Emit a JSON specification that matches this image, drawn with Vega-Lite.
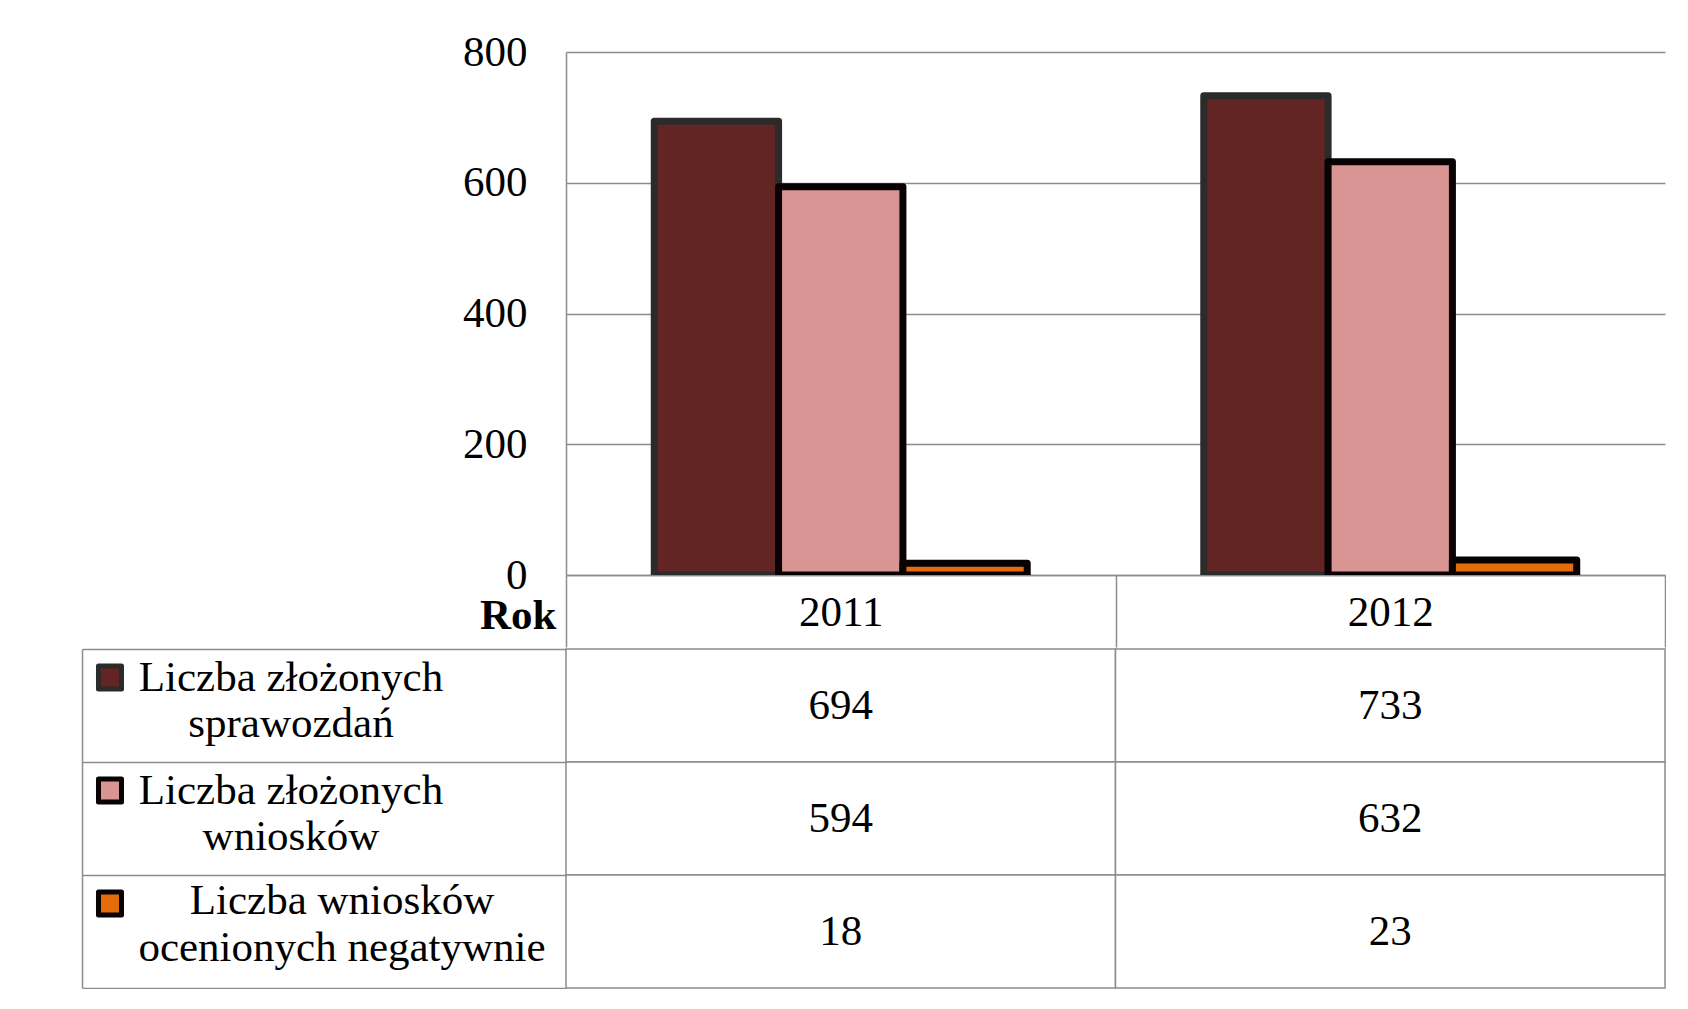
{
  "$schema": "https://vega.github.io/schema/vega-lite/v6.json",
  "background": "white",
  "padding": {"left": 81, "top": 31, "right": 0, "bottom": 0},
  "spacing": 0,
  "config": {
    "view": {"stroke": null},
    "font": "Liberation Serif",
    "axis": {"labelColor": "#000000", "titleColor": "#000000", "labelFont": "Liberation Serif", "titleFont": "Liberation Serif"}
  },
  "datasets": {
    "vals": [
      {"year": "2011", "series": "Liczba złożonych sprawozdań", "label": "Liczba złożonych\nsprawozdań", "value": 694},
      {"year": "2011", "series": "Liczba złożonych wniosków", "label": "Liczba złożonych\nwniosków", "value": 594},
      {"year": "2011", "series": "Liczba wniosków ocenionych negatywnie", "label": "Liczba wniosków\nocenionych negatywnie", "value": 18},
      {"year": "2012", "series": "Liczba złożonych sprawozdań", "label": "Liczba złożonych\nsprawozdań", "value": 733},
      {"year": "2012", "series": "Liczba złożonych wniosków", "label": "Liczba złożonych\nwniosków", "value": 632},
      {"year": "2012", "series": "Liczba wniosków ocenionych negatywnie", "label": "Liczba wniosków\nocenionych negatywnie", "value": 23}
    ]
  },
  "vconcat": [
    {
      "width": 1099,
      "height": 523,
      "data": {"name": "vals"},
      "mark": {"type": "bar", "clip": true, "strokeWidth": 7, "strokeJoin": "round"},
      "encoding": {
        "x": {
          "field": "year", "type": "nominal",
          "scale": {"paddingInner": 0, "paddingOuter": 0},
          "axis": {
            "title": "Rok", "labelAngle": 0, "tickBand": "extent", "tickSize": 72,
            "tickColor": "#8c8c8c", "tickWidth": 1.5, "domainColor": "#8c8c8c", "domainWidth": 1.5,
            "labelFontSize": 43, "labelPadding": -35, "labelBaseline": "middle",
            "titleFontSize": 43, "titleFontWeight": "bold", "titleAnchor": "start", "titleAlign": "right",
            "titleBaseline": "middle", "titleX": -10, "titleY": 40
          }
        },
        "xOffset": {
          "field": "series", "type": "nominal",
          "sort": ["Liczba złożonych sprawozdań", "Liczba złożonych wniosków", "Liczba wniosków ocenionych negatywnie"],
          "scale": {"paddingInner": 0, "paddingOuter": 0.71}
        },
        "y": {
          "field": "value", "type": "quantitative",
          "scale": {"domain": [0, 800], "nice": false},
          "axis": {
            "title": null, "values": [0, 200, 400, 600, 800], "ticks": false, "tickSize": 0,
            "labelPadding": 39, "labelFontSize": 43,
            "gridColor": "#8c8c8c", "gridWidth": 1.5, "domainColor": "#8c8c8c", "domainWidth": 1.5,
            "minExtent": 484, "maxExtent": 484
          }
        },
        "fill": {
          "field": "series", "type": "nominal",
          "sort": ["Liczba złożonych sprawozdań", "Liczba złożonych wniosków", "Liczba wniosków ocenionych negatywnie"],
          "scale": {"range": ["#632523", "#d99594", "#e46c0a"]},
          "legend": null
        },
        "stroke": {
          "field": "series", "type": "nominal",
          "sort": ["Liczba złożonych sprawozdań", "Liczba złożonych wniosków", "Liczba wniosków ocenionych negatywnie"],
          "scale": {"range": ["#2b2b2b", "#080202", "#080202"]},
          "legend": null
        }
      }
    },
    {
      "width": 1099,
      "height": 339,
      "data": {"name": "vals"},
      "encoding": {
        "y": {
          "field": "series", "type": "nominal",
          "sort": ["Liczba złożonych sprawozdań", "Liczba złożonych wniosków", "Liczba wniosków ocenionych negatywnie"],
          "scale": {"paddingInner": 0, "paddingOuter": 0},
          "axis": {
            "title": null, "labels": false, "offset": 484, "tickBand": "extent", "tickSize": -484,
            "tickColor": "#8c8c8c", "tickWidth": 1.5, "domainColor": "#8c8c8c", "domainWidth": 1.5
          }
        }
      },
      "layer": [
        {
          "mark": {"type": "rect", "fill": "white", "stroke": "#8c8c8c", "strokeWidth": 1.5},
          "encoding": {
            "x": {"field": "year", "type": "nominal", "scale": {"paddingInner": 0, "paddingOuter": 0}, "axis": null}
          }
        },
        {
          "mark": {"type": "text", "fontSize": 43, "baseline": "middle", "color": "#000000"},
          "encoding": {
            "x": {"field": "year", "type": "nominal", "axis": null},
            "text": {"field": "value", "type": "quantitative"}
          }
        },
        {
          "transform": [{"filter": "datum.year == '2011' && datum.series != 'Liczba wniosków ocenionych negatywnie'"}],
          "mark": {"type": "text", "lineBreak": "\n", "fontSize": 43, "lineHeight": 46, "xOffset": -275, "dy": -28, "baseline": "middle", "color": "#000000"},
          "encoding": {
            "x": {"datum": "2011", "type": "nominal", "bandPosition": 0, "axis": null},
            "text": {"field": "label"}
          }
        },
        {
          "transform": [{"filter": "datum.year == '2011' && datum.series == 'Liczba wniosków ocenionych negatywnie'"}],
          "mark": {"type": "text", "lineBreak": "\n", "fontSize": 43, "lineHeight": 47, "xOffset": -224, "dy": -31, "baseline": "middle", "color": "#000000"},
          "encoding": {
            "x": {"datum": "2011", "type": "nominal", "bandPosition": 0, "axis": null},
            "text": {"field": "label"}
          }
        },
        {
          "transform": [{"filter": "datum.year == '2011'"}],
          "mark": {"type": "point", "shape": "square", "filled": true, "size": 530, "strokeWidth": 5, "strokeJoin": "round", "opacity": 1, "xOffset": -456, "yOffset": -28},
          "encoding": {
            "x": {"datum": "2011", "type": "nominal", "bandPosition": 0, "axis": null},
            "fill": {
              "field": "series", "type": "nominal",
              "sort": ["Liczba złożonych sprawozdań", "Liczba złożonych wniosków", "Liczba wniosków ocenionych negatywnie"],
              "scale": {"range": ["#632523", "#d99594", "#e46c0a"]},
              "legend": null
            },
            "stroke": {
              "field": "series", "type": "nominal",
              "sort": ["Liczba złożonych sprawozdań", "Liczba złożonych wniosków", "Liczba wniosków ocenionych negatywnie"],
              "scale": {"range": ["#2b2b2b", "#080202", "#080202"]},
              "legend": null
            }
          }
        }
      ]
    }
  ]
}
